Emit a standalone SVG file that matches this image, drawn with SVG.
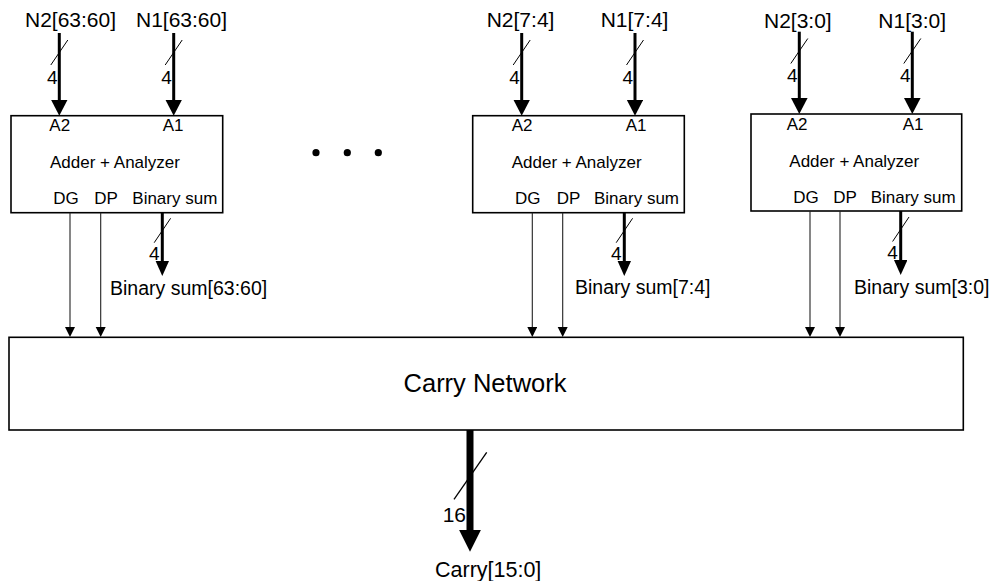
<svg xmlns="http://www.w3.org/2000/svg" width="992" height="581" viewBox="0 0 992 581">
<style>
  text { font-family: "Liberation Sans", Arial, sans-serif; fill: #000; }
  .box { fill: #fff; stroke: #000; stroke-width: 1.6; }
  .lbl { font-size: 21px; }
  .in { font-size: 17px; }
  .w { font-size: 19px; }
  .sum { font-size: 19.5px; }
  .bus { stroke: #000; stroke-width: 3; fill: none; }
  .thin { stroke: #222; stroke-width: 1.1; fill: none; }
  .slash { stroke: #000; stroke-width: 1; fill: none; }
  .cbus { stroke: #000; stroke-width: 7; fill: none; }
</style>
<defs>
  <marker id="ahIn" markerUnits="userSpaceOnUse" markerWidth="17" markerHeight="17" refX="1" refY="8.3" orient="auto">
    <path d="M0,0 L16,8.3 L0,16.6 z" fill="#000"/>
  </marker>
  <marker id="ahSum" markerUnits="userSpaceOnUse" markerWidth="16" markerHeight="14" refX="1" refY="6.7" orient="auto">
    <path d="M0,0 L15,6.7 L0,13.4 z" fill="#000"/>
  </marker>
  <marker id="ahThin" markerUnits="userSpaceOnUse" markerWidth="11" markerHeight="11" refX="1" refY="5" orient="auto">
    <path d="M0,0 L10,5 L0,10 z" fill="#000"/>
  </marker>
  <marker id="ahCarry" markerUnits="userSpaceOnUse" markerWidth="23" markerHeight="23" refX="1" refY="11" orient="auto">
    <path d="M0,0 L22,11 L0,22 z" fill="#000"/>
  </marker>
</defs>

<!-- Node: Adder + Analyzer [63:60] -->
<g id="adder63">
  <rect class="box" x="11" y="115.7" width="211.7" height="97"/>
  <text class="in" x="49.3" y="131">A2</text>
  <text class="in" x="162.7" y="131">A1</text>
  <text class="in" x="50" y="168">Adder + Analyzer</text>
  <text class="in" x="53.3" y="204">DG</text>
  <text class="in" x="94.3" y="204">DP</text>
  <text class="in" x="132.3" y="204">Binary sum</text>
</g>

<!-- Node: Adder + Analyzer [7:4] -->
<g id="adder7">
  <rect class="box" x="472.7" y="115.7" width="211.6" height="97"/>
  <text class="in" x="511.7" y="131">A2</text>
  <text class="in" x="625.7" y="131">A1</text>
  <text class="in" x="511.7" y="168">Adder + Analyzer</text>
  <text class="in" x="515" y="204">DG</text>
  <text class="in" x="556.7" y="204">DP</text>
  <text class="in" x="594" y="204">Binary sum</text>
</g>

<!-- Node: Adder + Analyzer [3:0] -->
<g id="adder3">
  <rect class="box" x="751" y="114" width="210.7" height="97"/>
  <text class="in" x="786.7" y="129.5">A2</text>
  <text class="in" x="902.7" y="129.5">A1</text>
  <text class="in" x="789.3" y="166.5">Adder + Analyzer</text>
  <text class="in" x="793.3" y="202.5">DG</text>
  <text class="in" x="833.3" y="202.5">DP</text>
  <text class="in" x="870.7" y="202.5">Binary sum</text>
</g>

<!-- Ellipsis -->
<g id="ellipsis">
  <circle cx="316" cy="152.7" r="3.6" fill="#000"/>
  <circle cx="347.3" cy="152.7" r="3.6" fill="#000"/>
  <circle cx="378.3" cy="152.7" r="3.6" fill="#000"/>
</g>

<!-- Node: Carry Network -->
<g id="carry">
  <rect class="box" x="9" y="337.3" width="954.3" height="92.7"/>
  <text x="485" y="391.7" text-anchor="middle" style="font-size:25.5px">Carry Network</text>
</g>

<!-- Input labels -->
<g id="inputs">
  <text class="lbl" x="25" y="27">N2[63:60]</text>
  <text class="lbl" x="136" y="27">N1[63:60]</text>
  <text class="lbl" x="486.7" y="27">N2[7:4]</text>
  <text class="lbl" x="600.7" y="27">N1[7:4]</text>
  <text class="lbl" x="764" y="28">N2[3:0]</text>
  <text class="lbl" x="878.3" y="28">N1[3:0]</text>
</g>

<!-- Output labels -->
<g id="outputs">
  <text class="sum" x="110" y="295">Binary sum[63:60]</text>
  <text class="sum" x="575" y="294.3">Binary sum[7:4]</text>
  <text class="sum" x="854" y="294.3">Binary sum[3:0]</text>
  <text x="435" y="576.7" style="font-size:21.5px">Carry[15:0]</text>
</g>

<!-- Connectors -->
<g id="connectors">
  <!-- inputs box 1 -->
  <line class="bus" x1="59.3" y1="33" x2="59.3" y2="100.7" marker-end="url(#ahIn)"/>
  <line class="slash" x1="50.8" y1="65" x2="67.8" y2="40"/>
  <text class="w" x="57.5" y="83.5" text-anchor="end">4</text>
  <line class="bus" x1="173.7" y1="33" x2="173.7" y2="100.7" marker-end="url(#ahIn)"/>
  <line class="slash" x1="165.2" y1="65" x2="182.2" y2="40"/>
  <text class="w" x="171.9" y="83.5" text-anchor="end">4</text>
  <!-- inputs box 2 -->
  <line class="bus" x1="521.7" y1="33" x2="521.7" y2="100.7" marker-end="url(#ahIn)"/>
  <line class="slash" x1="513.2" y1="65" x2="530.2" y2="40"/>
  <text class="w" x="519.9" y="83.5" text-anchor="end">4</text>
  <line class="bus" x1="635" y1="33" x2="635" y2="100.7" marker-end="url(#ahIn)"/>
  <line class="slash" x1="626.5" y1="65" x2="643.5" y2="40"/>
  <text class="w" x="633.2" y="83.5" text-anchor="end">4</text>
  <!-- inputs box 3 -->
  <line class="bus" x1="799.3" y1="31.7" x2="799.3" y2="99" marker-end="url(#ahIn)"/>
  <line class="slash" x1="790.8" y1="63.5" x2="807.8" y2="38.5"/>
  <text class="w" x="797.5" y="82" text-anchor="end">4</text>
  <line class="bus" x1="912.3" y1="31.7" x2="912.3" y2="99" marker-end="url(#ahIn)"/>
  <line class="slash" x1="903.8" y1="63.5" x2="920.8" y2="38.5"/>
  <text class="w" x="910.5" y="82" text-anchor="end">4</text>

  <!-- binary sum outputs -->
  <line class="bus" x1="162.3" y1="212.7" x2="162.3" y2="262" marker-end="url(#ahSum)"/>
  <line class="slash" x1="154.2" y1="242.7" x2="170.6" y2="218.3"/>
  <text class="w" x="159.5" y="260" text-anchor="end">4</text>
  <line class="bus" x1="624.3" y1="212.7" x2="624.3" y2="262" marker-end="url(#ahSum)"/>
  <line class="slash" x1="616.2" y1="242.7" x2="632.6" y2="218.3"/>
  <text class="w" x="621.5" y="260" text-anchor="end">4</text>
  <line class="bus" x1="900.7" y1="211" x2="900.7" y2="261" marker-end="url(#ahSum)"/>
  <line class="slash" x1="892.6" y1="241.5" x2="909" y2="217"/>
  <text class="w" x="897.9" y="259" text-anchor="end">4</text>

  <!-- DG / DP to carry network -->
  <line class="thin" x1="70" y1="212.7" x2="70" y2="328" marker-end="url(#ahThin)"/>
  <line class="thin" x1="100.7" y1="212.7" x2="100.7" y2="328" marker-end="url(#ahThin)"/>
  <line class="thin" x1="532.3" y1="212.7" x2="532.3" y2="328" marker-end="url(#ahThin)"/>
  <line class="thin" x1="562.7" y1="212.7" x2="562.7" y2="328" marker-end="url(#ahThin)"/>
  <line class="thin" x1="810" y1="211" x2="810" y2="328" marker-end="url(#ahThin)"/>
  <line class="thin" x1="840" y1="211" x2="840" y2="328" marker-end="url(#ahThin)"/>

  <!-- carry output -->
  <line class="cbus" x1="470" y1="430" x2="470" y2="530.7" marker-end="url(#ahCarry)"/>
  <line class="slash" x1="454" y1="499.3" x2="486.7" y2="452.3" style="stroke-width:1.3"/>
  <text x="466" y="521.7" text-anchor="end" style="font-size:21px">16</text>
</g>
</svg>
